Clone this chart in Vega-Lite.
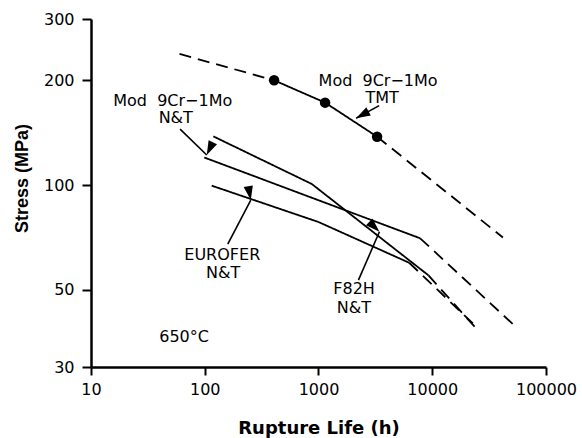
{
  "$schema": "https://vega.github.io/schema/vega-lite/v6.json",
  "width": 455,
  "height": 348,
  "autosize": "none",
  "padding": {"left": 91, "top": 19, "right": 36, "bottom": 71},
  "background": "white",
  "config": {"view": {"stroke": null}, "font": "DejaVu Sans"},
  "datasets": {
    "curves": [
      {"part": "TMT-a", "segment": "extrapolated", "order": 1, "x": 60, "y": 238},
      {"part": "TMT-a", "segment": "extrapolated", "order": 2, "x": 407, "y": 200},
      {"part": "TMT-b", "segment": "measured", "order": 1, "x": 407, "y": 200},
      {"part": "TMT-b", "segment": "measured", "order": 2, "x": 1143, "y": 172.5},
      {"part": "TMT-b", "segment": "measured", "order": 3, "x": 3275, "y": 137.7},
      {"part": "TMT-c", "segment": "extrapolated", "order": 1, "x": 3275, "y": 137.7},
      {"part": "TMT-c", "segment": "extrapolated", "order": 2, "x": 41800, "y": 70.7},
      {"part": "9Cr-a", "segment": "measured", "order": 1, "x": 99, "y": 120},
      {"part": "9Cr-a", "segment": "measured", "order": 2, "x": 7830, "y": 70.3},
      {"part": "9Cr-b", "segment": "extrapolated", "order": 1, "x": 7830, "y": 70.3},
      {"part": "9Cr-b", "segment": "extrapolated", "order": 2, "x": 51800, "y": 39.7},
      {"part": "F82H-a", "segment": "measured", "order": 1, "x": 119, "y": 138},
      {"part": "F82H-a", "segment": "measured", "order": 2, "x": 873, "y": 100.7},
      {"part": "F82H-a", "segment": "measured", "order": 3, "x": 9270, "y": 55},
      {"part": "F82H-b", "segment": "extrapolated", "order": 1, "x": 9270, "y": 55},
      {"part": "F82H-b", "segment": "extrapolated", "order": 2, "x": 23850, "y": 39.0},
      {"part": "EUR-a", "segment": "measured", "order": 1, "x": 115, "y": 99.6},
      {"part": "EUR-a", "segment": "measured", "order": 2, "x": 1000, "y": 78.3},
      {"part": "EUR-a", "segment": "measured", "order": 3, "x": 6265, "y": 59.8},
      {"part": "EUR-b", "segment": "extrapolated", "order": 1, "x": 6265, "y": 59.8},
      {"part": "EUR-b", "segment": "extrapolated", "order": 2, "x": 24700, "y": 39.0}
    ],
    "points": [
      {"x": 407, "y": 200},
      {"x": 1143, "y": 172.5},
      {"x": 3275, "y": 137.7}
    ],
    "arrows": [
      {"label": "TMT", "xs": 3412, "ys": 169.1, "x": 2142, "y": 155.6},
      {"label": "9Cr N&T", "xs": 60.7, "ys": 144.7, "x": 104.1, "y": 122.0},
      {"label": "EUROFER", "xs": 159.3, "ys": 67.6, "x": 253.9, "y": 90.5},
      {"label": "F82H", "xs": 2244, "ys": 53.3, "x": 3433, "y": 73.4}
    ],
    "labels": [
      {"text": "Mod\u00a0\u00a09Cr−1Mo", "x": 3342, "y": 199.5},
      {"text": "TMT", "x": 3624, "y": 177.6},
      {"text": "Mod\u00a0\u00a09Cr−1Mo", "x": 52.3, "y": 174.9},
      {"text": "N&T", "x": 55.6, "y": 155.6},
      {"text": "EUROFER", "x": 142.6, "y": 62.9},
      {"text": "N&T", "x": 144.9, "y": 55.9},
      {"text": "F82H", "x": 2056, "y": 50.1},
      {"text": "N&T", "x": 2044, "y": 44.2},
      {"text": "650°C", "x": 65.8, "y": 36.5}
    ]
  },
  "layer": [
    {
      "data": {"name": "curves"},
      "mark": {"type": "line", "color": "black", "strokeWidth": 1.8},
      "encoding": {
        "x": {
          "field": "x", "type": "quantitative",
          "scale": {"type": "log", "domain": [10, 100000], "nice": false},
          "axis": {
            "title": "Rupture Life (h)",
            "values": [10, 100, 1000, 10000, 100000],
            "format": "d",
            "grid": false,
            "domainColor": "black", "domainWidth": 2.5,
            "tickColor": "black", "tickWidth": 2, "tickSize": 8,
            "labelFont": "DejaVu Sans", "labelFontSize": 16, "labelColor": "black",
            "labelPadding": 6, "labelFlush": false, "labelOverlap": false,
            "titleFont": "DejaVu Sans", "titleFontSize": 18, "titleFontWeight": "bold",
            "titleColor": "black", "titlePadding": 22
          }
        },
        "y": {
          "field": "y", "type": "quantitative",
          "scale": {"type": "log", "domain": [30, 300], "nice": false, "zero": false},
          "axis": {
            "title": "Stress (MPa)",
            "values": [30, 50, 100, 200, 300],
            "format": "d",
            "grid": false,
            "domainColor": "black", "domainWidth": 2.5,
            "tickColor": "black", "tickWidth": 2, "tickSize": 9,
            "labelFont": "DejaVu Sans", "labelFontSize": 16, "labelColor": "black",
            "labelPadding": 8, "labelFlush": false, "labelOverlap": false,
            "titleFont": "Liberation Sans", "titleFontSize": 18, "titleFontWeight": "bold",
            "titleColor": "black", "titleX": -69, "titleY": 159, "titleAlign": "center",
            "titleBaseline": "middle", "titleAngle": 270
          }
        },
        "detail": {"field": "part", "type": "nominal"},
        "order": {"field": "order", "type": "quantitative"},
        "strokeDash": {
          "field": "segment", "type": "nominal",
          "scale": {"domain": ["measured", "extrapolated"], "range": [[1, 0], [12, 7]]},
          "legend": null
        }
      }
    },
    {
      "data": {"name": "points"},
      "mark": {"type": "point", "shape": "circle", "filled": true, "color": "black", "opacity": 1, "size": 110},
      "encoding": {
        "x": {"field": "x", "type": "quantitative"},
        "y": {"field": "y", "type": "quantitative"}
      }
    },
    {
      "data": {"name": "arrows"},
      "mark": {"type": "rule", "color": "black", "strokeWidth": 1.6},
      "encoding": {
        "x": {"field": "xs", "type": "quantitative"},
        "y": {"field": "ys", "type": "quantitative"},
        "x2": {"field": "x"},
        "y2": {"field": "y"}
      }
    },
    {
      "data": {"name": "arrows"},
      "mark": {"type": "point", "shape": "M0,0L-0.33,1L0.33,1Z", "filled": true, "color": "black", "opacity": 1, "size": 800},
      "encoding": {
        "x": {"field": "x", "type": "quantitative"},
        "y": {"field": "y", "type": "quantitative"},
        "angle": {
          "field": "label", "type": "nominal",
          "scale": {"domain": ["TMT", "9Cr N&T", "EUROFER", "F82H"], "range": [241.3, 133.9, 27.6, 23.5]},
          "legend": null
        }
      }
    },
    {
      "data": {"name": "labels"},
      "mark": {"type": "text", "font": "DejaVu Sans", "fontSize": 16, "color": "black", "align": "center", "baseline": "middle"},
      "encoding": {
        "x": {"field": "x", "type": "quantitative"},
        "y": {"field": "y", "type": "quantitative"},
        "text": {"field": "text", "type": "nominal"}
      }
    }
  ]
}
